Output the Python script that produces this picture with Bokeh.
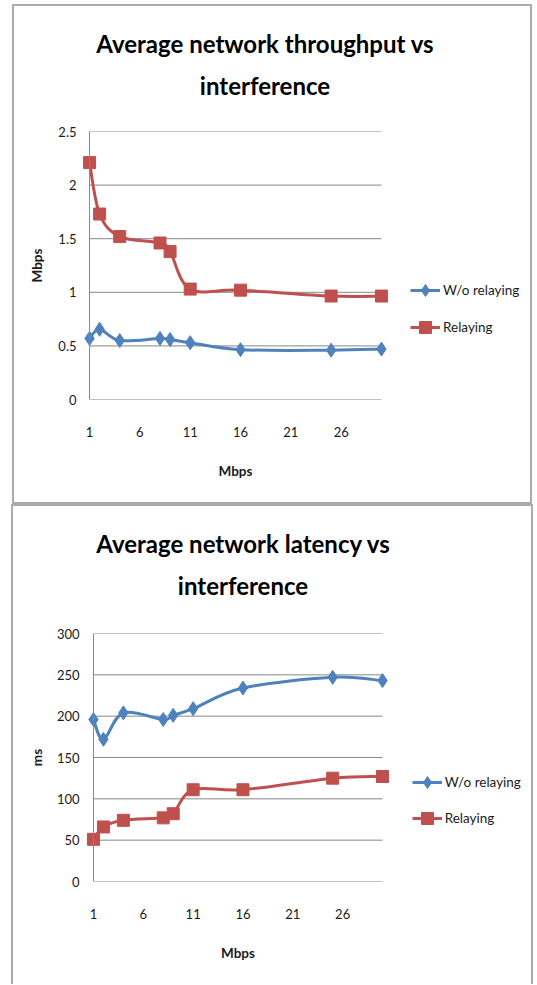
from bokeh.plotting import figure
from bokeh.models import (Legend, LegendItem, FixedTicker, Range1d, ColumnDataSource,
                          NumeralTickFormatter, Div, Span)
from bokeh.layouts import column, row
from bokeh.embed import file_html
from bokeh.resources import INLINE

# ---- data ----
interference = [1, 2, 4, 8, 9, 11, 16, 25, 30]
tp_without_relay = [0.57, 0.655, 0.55, 0.57, 0.56, 0.53, 0.465, 0.46, 0.47]
tp_relay = [2.21, 1.73, 1.52, 1.46, 1.38, 1.03, 1.02, 0.965, 0.965]
lat_without_relay = [196, 172, 204, 196, 201, 209, 234, 247, 243]
lat_relay = [51, 66, 74, 77, 82, 111, 111, 125, 127]
x_ticks = [1, 6, 11, 16, 21, 26]
x_bounds = (1, 30)
tp_ticks = [0, 0.5, 1, 1.5, 2, 2.5]
lat_ticks = [0, 50, 100, 150, 200, 250, 300]
series_names = ["W/o relaying", "Relaying"]
titles = [["Average network throughput vs", "interference"],
          ["Average network latency vs", "interference"]]

BLUE = "#4F81BD"
RED = "#C0504D"
GRID = "#868686"
FONT = "Lato"
TXT = "#1a1a1a"
EDGE = "#ABABAB"
PAD = 0.8  # range padding (x units) so edge markers are not clipped
ITEM_H = 30


def smooth(xs, ys):
    n = len(xs)
    d = dict(x0=[], y0=[], x1=[], y1=[], cx0=[], cy0=[], cx1=[], cy1=[])
    for i in range(n - 1):
        a = i - 1 if i > 0 else i
        b = i + 2 if i + 2 < n else i + 1
        d["x0"].append(xs[i]); d["y0"].append(ys[i])
        d["x1"].append(xs[i + 1]); d["y1"].append(ys[i + 1])
        d["cx0"].append(xs[i] + (xs[i + 1] - xs[a]) / 6)
        d["cy0"].append(ys[i] + (ys[i + 1] - ys[a]) / 6)
        d["cx1"].append(xs[i + 1] - (xs[b] - xs[i]) / 6)
        d["cy1"].append(ys[i + 1] - (ys[b] - ys[i]) / 6)
    return ColumnDataSource(d)


def chart(bx, by, W, H, div_h, left, frame_w, frame_top, frame_bot, yr, yticks, ylabel,
          ys_blue, ys_red, title_lines, title_cx, title_base, leg_left, leg_c1, leg_step,
          y_standoff, ylab_standoff, box_styles):
    fig_y = by + div_h
    fh = H - div_h
    top = round(frame_top - fig_y)
    bottom = round(by + H - frame_bot)
    main_w = left + frame_w + 3
    p = figure(width=main_w, height=fh,
               x_range=Range1d(x_bounds[0] - PAD, x_bounds[1] + PAD), y_range=Range1d(*yr),
               output_backend="svg", toolbar_location=None, title=None,
               min_border_left=left, min_border_right=3,
               min_border_top=top, min_border_bottom=bottom, margin=0)
    p.border_fill_color = None
    p.background_fill_color = None
    p.outline_line_color = None
    p.grid.visible = False
    p.xaxis.ticker = FixedTicker(ticks=x_ticks)
    p.yaxis.ticker = FixedTicker(ticks=yticks)
    p.yaxis.formatter = NumeralTickFormatter(format="0.[0]")
    for ax in (p.xaxis[0], p.yaxis[0]):
        ax.axis_line_color = None
        ax.major_tick_out = 0
        ax.major_tick_in = 0
        ax.minor_tick_line_color = None
        ax.major_label_text_font = FONT
        ax.major_label_text_font_size = "13px"
        ax.major_label_text_color = TXT
        ax.axis_label_text_font = FONT
        ax.axis_label_text_font_size = "13.5px"
        ax.axis_label_text_font_style = "bold"
        ax.axis_label_text_color = TXT
    p.xaxis.axis_label = "Mbps"
    p.xaxis.major_label_standoff = 27
    p.xaxis.axis_label_standoff = 23
    p.yaxis.axis_label = ylabel
    p.yaxis.major_label_standoff = y_standoff
    p.yaxis.axis_label_standoff = ylab_standoff

    # horizontal gridlines across the plot area and the vertical axis line
    p.segment(x0=[x_bounds[0]] * len(yticks), x1=[x_bounds[1]] * len(yticks),
              y0=yticks, y1=yticks, line_color=GRID, line_width=1)
    p.add_layout(Span(location=x_bounds[0], dimension="height", line_color=GRID, line_width=1))

    # legend lives in a small side figure (its frame is aligned with the main frame)
    lw = W - main_w
    q = figure(width=lw, height=fh, x_range=Range1d(0, 1), y_range=Range1d(0, 1),
               output_backend="svg", toolbar_location=None, title=None,
               min_border=0, margin=0, x_axis_location=None, y_axis_location=None)
    q.grid.visible = False
    q.outline_line_color = None
    q.border_fill_color = None
    q.background_fill_color = None

    items = []
    for ys, col, marker, size, name in ((ys_blue, BLUE, "diamond", 14, series_names[0]),
                                        (ys_red, RED, "square", 12, series_names[1])):
        p.bezier(x0="x0", y0="y0", x1="x1", y1="y1", cx0="cx0", cy0="cy0", cx1="cx1", cy1="cy1",
                 source=smooth(interference, ys), line_color=col, line_width=3)
        p.scatter(interference, ys, marker=marker, size=size, fill_color=col, line_color=col)
        lr = q.line(interference, ys, line_color=col, line_width=3)
        sr = q.scatter(interference, ys, marker=marker, size=size, fill_color=col, line_color=col)
        lr.visible = False
        sr.visible = False
        items.append(LegendItem(label=name, renderers=[lr, sr]))

    spacing = round(leg_step - ITEM_H)
    leg_top = leg_c1 - ITEM_H / 2
    leg_h = ITEM_H * 2 + spacing
    q_left = bx + main_w
    legend = Legend(items=items, location=(leg_left - q_left, frame_bot - (leg_top + leg_h)),
                    glyph_width=30, glyph_height=ITEM_H, label_height=20, label_standoff=3,
                    spacing=spacing, padding=0, margin=0,
                    label_text_font=FONT, label_text_font_size="13.5px", label_text_color=TXT,
                    border_line_color=None, background_fill_alpha=0)
    q.add_layout(legend, "center")

    # title block (Lato 24px, line-height 42px -> baseline ~30px below line top)
    pad_top = title_base - by - 30
    center = bx + W / 2.0
    pad_r = max(0, 2 * (center - title_cx))
    html = ('<div style="font-family:Lato;font-weight:bold;font-size:24px;line-height:42px;'
            'text-align:center;color:#000;white-space:nowrap;box-sizing:border-box;'
            f'width:{W}px;padding-top:{pad_top:.1f}px;padding-right:{pad_r:.1f}px">'
            + "<br>".join(title_lines) + "</div>")
    div = Div(text=html, width=W, height=div_h, margin=0)
    box = column(div, row(p, q, spacing=0, margin=0), spacing=0,
                 margin=(by if by < 100 else 0, 0, 0, bx), styles=box_styles)
    return box


box1 = chart(12, 4, 520, 500, 100, 69, 308, 130.7, 399.3, (0, 2.5), tp_ticks, "Mbps",
             tp_without_relay, tp_relay, titles[0], 265, 53, 410, 290, 37, 5, 10,
             {"box-shadow": f"inset 2px 2px 0 {EDGE}, inset -2px -2px 0 {EDGE}"})
box2 = chart(11, 504, 522, 480, 100, 74, 305, 632.7, 880.7, (0, 300), lat_ticks, "ms",
             lat_without_relay, lat_relay, titles[1], 243, 553, 411.7, 781.7, 36.3, 6, 9,
             {"box-shadow": f"inset 2px 2px 0 {EDGE}, inset -2px 0 0 {EDGE}"})

layout = column(box1, box2, spacing=0, margin=0)
open("out.html", "w").write(file_html(layout, INLINE))
